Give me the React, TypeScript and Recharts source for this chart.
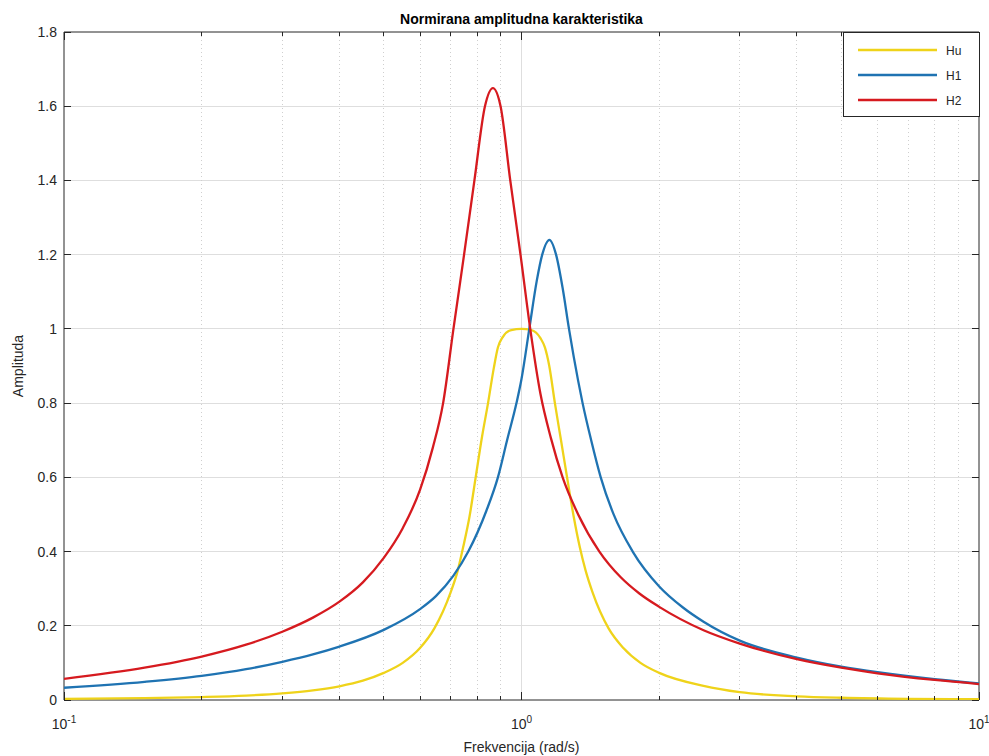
import React from 'react'
import { CartesianGrid, Line, LineChart, ReferenceArea, XAxis, YAxis } from 'recharts'

// frequencies (rad/s) and normalised amplitude
const huFreq = [0.1, 0.15, 0.2, 0.25, 0.3, 0.35, 0.4, 0.45, 0.5, 0.55, 0.6, 0.645, 0.7, 0.726, 0.745, 0.77, 0.794, 0.82, 0.845, 0.87, 0.888, 0.91, 0.95, 1.0, 1.05, 1.1, 1.125, 1.15, 1.183, 1.22, 1.26, 1.3, 1.342, 1.38, 1.43, 1.55, 1.67, 1.82, 2, 2.5, 3, 4, 5, 7, 10]
const huAmp = [0.003, 0.005, 0.008, 0.012, 0.018, 0.026, 0.037, 0.052, 0.073, 0.1, 0.14, 0.193, 0.29, 0.35, 0.41, 0.495, 0.6, 0.71, 0.8, 0.895, 0.95, 0.978, 0.997, 1.0, 0.997, 0.975, 0.95, 0.9, 0.8, 0.7, 0.594, 0.495, 0.41, 0.35, 0.29, 0.193, 0.14, 0.1, 0.073, 0.038, 0.021, 0.01, 0.006, 0.003, 0.002]

const h1Freq = [0.1, 0.15, 0.2, 0.25, 0.3, 0.35, 0.4, 0.5, 0.6, 0.65, 0.71, 0.765, 0.838, 0.888, 0.93, 0.975, 1.0, 1.04, 1.08, 1.11, 1.151, 1.19, 1.23, 1.27, 1.33, 1.36, 1.42, 1.49, 1.59, 1.75, 2, 2.25, 2.5, 3, 4, 5, 6, 8, 10]
const h1Amp = [0.033, 0.049, 0.065, 0.083, 0.103, 0.123, 0.144, 0.189, 0.245, 0.28, 0.335, 0.4, 0.51, 0.6, 0.7, 0.8, 0.865, 1.0, 1.13, 1.2, 1.24, 1.2, 1.11, 1.0, 0.86, 0.8, 0.7, 0.6, 0.5, 0.4, 0.306, 0.25, 0.211, 0.16, 0.1145, 0.09, 0.0748, 0.0559, 0.0446]

const h2Freq = [0.1, 0.15, 0.2, 0.25, 0.3, 0.35, 0.4, 0.45, 0.5, 0.55, 0.6, 0.64, 0.674, 0.71, 0.749, 0.789, 0.832, 0.866, 0.9, 0.945, 0.995, 1.045, 1.1, 1.16, 1.23, 1.33, 1.48, 1.65, 1.81, 2, 2.5, 3, 4, 5, 6, 8, 10]
const h2Amp = [0.057, 0.087, 0.117, 0.149, 0.184, 0.222, 0.265, 0.317, 0.383, 0.463, 0.566, 0.68, 0.8, 1.0, 1.2, 1.4, 1.6, 1.649, 1.6, 1.4, 1.2, 1.0, 0.825, 0.705, 0.6, 0.5, 0.4, 0.33, 0.287, 0.251, 0.188, 0.152, 0.11, 0.087, 0.072, 0.054, 0.043]

const xTicks = [0.1, 0.2, 0.3, 0.4, 0.5, 0.6, 0.7, 0.8, 0.9, 1, 2, 3, 4, 5, 6, 7, 8, 9, 10]
const xExponents: Record<string, string> = { '0.1': '-1', '1': '0', '10': '1' }
const yTicks = [0, 0.2, 0.4, 0.6, 0.8, 1, 1.2, 1.4, 1.6, 1.8]

const toPoints = (f: number[], a: number[]) => f.map((x, i) => ({ f: x, v: a[i] }))

const series = [
  { name: 'Hu', color: '#EFD31A', data: toPoints(huFreq, huAmp) },
  { name: 'H1', color: '#1F73B2', data: toPoints(h1Freq, h1Amp) },
  { name: 'H2', color: '#D61A1F', data: toPoints(h2Freq, h2Amp) },
]

const W = 989
const H = 756
const LEFT = 64
const TOP = 32
const RIGHT = 979
const BOTTOM = 700
const AXIS = '#262626'
const GRID = '#dedede'
const FONT = '"Liberation Sans", Arial, Helvetica, sans-serif'

function XTick(props: any) {
  const { x, payload } = props
  const exp = xExponents[String(payload.value)]
  const len = exp !== undefined ? 8 : 4
  return (
    <g>
      <line x1={x} x2={x} y1={BOTTOM} y2={BOTTOM - len} stroke={AXIS} shapeRendering='crispEdges' />
      <line x1={x} x2={x} y1={TOP} y2={TOP + len} stroke={AXIS} shapeRendering='crispEdges' />
      {exp !== undefined && (
        <text x={x} y={BOTTOM + 29} textAnchor='middle' fill={AXIS} fontSize={14} fontFamily={FONT}>
          10
          <tspan dy={-6} fontSize={10}>
            {exp}
          </tspan>
        </text>
      )}
    </g>
  )
}

function YTick(props: any) {
  const { y, payload } = props
  return (
    <g>
      <line x1={LEFT} x2={LEFT + 7} y1={y} y2={y} stroke={AXIS} shapeRendering='crispEdges' />
      <line x1={RIGHT} x2={RIGHT - 7} y1={y} y2={y} stroke={AXIS} shapeRendering='crispEdges' />
      <text x={LEFT - 7} y={y} dy={5} textAnchor='end' fill={AXIS} fontSize={14} fontFamily={FONT}>
        {String(payload.value)}
      </text>
    </g>
  )
}

function hLine(p: any) {
  if (p.y1 <= TOP + 0.5 || p.y1 >= BOTTOM - 0.5) return <g key={`h-${p.index}`} />
  return <line key={`h-${p.index}`} x1={p.x1} x2={p.x2} y1={p.y1} y2={p.y2} stroke={GRID} shapeRendering='crispEdges' />
}

function vLine(p: any) {
  if (p.x1 <= LEFT + 0.5 || p.x1 >= RIGHT - 0.5) return <g key={`v-${p.index}`} />
  const major = Math.abs(p.x1 - (LEFT + RIGHT) / 2) < 1.5
  return (
    <line
      key={`v-${p.index}`}
      x1={p.x1}
      x2={p.x2}
      y1={p.y1}
      y2={p.y2}
      stroke={major ? GRID : '#cfcfcf'}
      strokeDasharray={major ? undefined : '1 3'}
      shapeRendering='crispEdges'
    />
  )
}

function LegendBox() {
  return (
    <div
      style={{
        position: 'absolute',
        left: 843,
        top: TOP,
        width: RIGHT - 843 + 1,
        height: 85,
        boxSizing: 'border-box',
        border: `1px solid ${AXIS}`,
        background: '#fff',
      }}
    >
      <svg width={RIGHT - 843 - 1} height={83} style={{ display: 'block' }}>
        {series.map((s, i) => (
          <g key={s.name}>
            <line x1={14} x2={93} y1={17 + 25 * i} y2={17 + 25 * i} stroke={s.color} strokeWidth={2.3} />
            <text x={102} y={17 + 25 * i} dy={4.5} fontSize={12} fill={AXIS} fontFamily={FONT}>
              {s.name}
            </text>
          </g>
        ))}
      </svg>
    </div>
  )
}

export default function App() {
  return (
    <div style={{ position: 'absolute', left: 0, top: 0, width: W, height: H, background: '#fff', fontFamily: FONT }}>
      <LineChart width={W} height={H} margin={{ top: TOP, right: W - RIGHT, bottom: 0, left: 0 }}>
        <CartesianGrid horizontal={hLine} vertical={vLine} />
        <XAxis
          dataKey='f'
          type='number'
          scale='log'
          domain={[0.1, 10]}
          allowDataOverflow
          ticks={xTicks}
          interval={0}
          height={H - BOTTOM}
          tickSize={0}
          tickMargin={0}
          axisLine={false}
          tick={<XTick />}
          label={{
            content: () => (
              <text x={(LEFT + RIGHT) / 2} y={752} textAnchor='middle' fill={AXIS} fontSize={14} fontFamily={FONT}>
                Frekvencija (rad/s)
              </text>
            ),
          }}
        />
        <YAxis
          type='number'
          domain={[0, 1.8]}
          allowDataOverflow
          ticks={yTicks}
          interval={0}
          width={LEFT}
          tickSize={0}
          tickMargin={0}
          axisLine={false}
          tick={<YTick />}
          label={{
            content: () => (
              <text
                x={23}
                y={(TOP + BOTTOM) / 2}
                transform={`rotate(-90 23 ${(TOP + BOTTOM) / 2})`}
                textAnchor='middle'
                fill={AXIS}
                fontSize={14}
                fontFamily={FONT}
              >
                Amplituda
              </text>
            ),
          }}
        />
        {series.map((s) => (
          <Line
            key={s.name}
            data={s.data}
            dataKey='v'
            name={s.name}
            type='monotone'
            stroke={s.color}
            strokeWidth={2.3}
            dot={false}
            activeDot={false}
            isAnimationActive={false}
          />
        ))}
        <ReferenceArea x1={0.1} x2={10} y1={0} y2={1.8} fill='none' stroke={AXIS} strokeWidth={1} ifOverflow='visible' />
      </LineChart>
      <div
        style={{
          position: 'absolute',
          left: LEFT,
          width: RIGHT - LEFT,
          top: 11,
          textAlign: 'center',
          fontWeight: 'bold',
          fontSize: 14,
          lineHeight: '16px',
          color: '#000',
        }}
      >
        Normirana amplitudna karakteristika
      </div>
      <LegendBox />
    </div>
  )
}
